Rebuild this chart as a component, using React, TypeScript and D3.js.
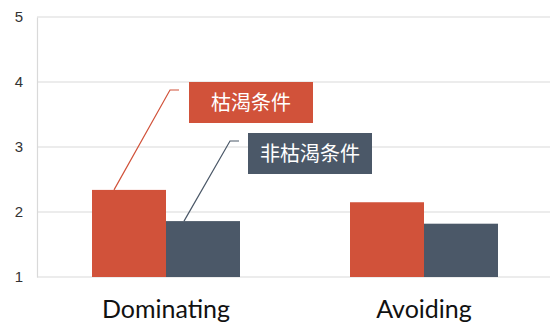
import { axisLeft, scaleBand, scaleLinear, select } from "d3";
import { useEffect, useRef } from "react";

const categories = ["Dominating", "Avoiding"];
const seriesNames = ["枯渴条件", "非枯渴条件"];
const drought = [2.34, 2.15];
const nonDrought = [1.86, 1.82];
const yTicks = [1, 2, 3, 4, 5];

const colors = ["#d1523a", "#4b5868"];

function App() {
  const w = 550;
  const h = 325;
  const svgRef = useRef(null);

  useEffect(() => {
    document.body.style.margin = "0";
    if (!svgRef.current) return;
    const svg = select(svgRef.current).attr("width", w).attr("height", h);
    svg.selectAll("*").remove();

    const left = 37;
    const x0 = scaleBand().domain(categories).range([left, 553]).padding(0);
    const x1 = scaleBand()
      .domain(seriesNames)
      .range([55, 203])
      .padding(0);
    const y = scaleLinear().domain([1, 5]).range([277, 17]);

    // grid
    svg
      .append("g")
      .selectAll("line")
      .data(yTicks)
      .join("line")
      .attr("x1", left)
      .attr("x2", w)
      .attr("y1", (d) => y(d))
      .attr("y2", (d) => y(d))
      .attr("stroke", "#d9d9d9")
      .attr("stroke-width", 1.2);

    const yAxis = axisLeft(y)
      .tickValues(yTicks)
      .tickFormat((d) => String(d))
      .tickSize(0)
      .tickPadding(14);
    const ga = svg.append("g").attr("transform", `translate(${left},0)`).call(yAxis);
    ga.select(".domain").attr("stroke", "#d9d9d9").attr("stroke-width", 1.2);
    ga.selectAll("text")
      .style("font-family", "Liberation Sans, Arial, sans-serif")
      .style("font-size", "15px")
      .attr("fill", "#333");

    const rows = categories.map((c, i) => ({ c, vals: [drought[i], nonDrought[i]] }));

    svg
      .append("g")
      .selectAll("g")
      .data(rows)
      .join("g")
      .attr("transform", (d) => `translate(${x0(d.c)},0)`)
      .selectAll("rect")
      .data((d) => d.vals.map((v, j) => ({ v, s: seriesNames[j], j })))
      .join("rect")
      .attr("x", (d) => x1(d.s))
      .attr("y", (d) => y(d.v))
      .attr("width", x1.bandwidth())
      .attr("height", (d) => y(1) - y(d.v))
      .attr("fill", (d) => colors[d.j]);

    // category labels
    svg
      .append("g")
      .selectAll("text")
      .data(categories)
      .join("text")
      .attr("x", (d) => x0(d) + x0.bandwidth() / 2)
      .attr("y", 318)
      .attr("text-anchor", "middle")
      .style("font-family", "Lato, Open Sans, sans-serif")
      .style("font-size", "25px")
      .attr("fill", "#111")
      .text((d) => d);

    // callouts for the first category
    const c0 = categories[0];
    const callouts = [
      { j: 0, v: drought[0], box: [189, 82, 124, 41], elbow: [170, 90], dx: 22 },
      { j: 1, v: nonDrought[0], box: [248, 133, 124, 41], elbow: [230, 141], dx: 18 },
    ];
    callouts.forEach((co) => {
      const bx = x0(c0) + x1(seriesNames[co.j]) + co.dx;
      const by = y(co.v);
      svg
        .append("polyline")
        .attr(
          "points",
          `${bx},${by} ${co.elbow[0]},${co.elbow[1]} ${co.elbow[0] + 9},${co.elbow[1]}`
        )
        .attr("fill", "none")
        .attr("stroke", colors[co.j])
        .attr("stroke-width", 1.2);
      svg
        .append("rect")
        .attr("x", co.box[0])
        .attr("y", co.box[1])
        .attr("width", co.box[2])
        .attr("height", co.box[3])
        .attr("fill", colors[co.j]);
      svg
        .append("text")
        .attr("x", co.box[0] + co.box[2] / 2)
        .attr("y", co.box[1] + co.box[3] / 2 + 7)
        .attr("text-anchor", "middle")
        .style("font-family", "Noto Sans CJK SC, sans-serif")
        .style("font-size", "20px")
        .attr("fill", "#fff")
        .text(seriesNames[co.j]);
    });
  }, [svgRef]);

  return (
    <div>
      <svg ref={svgRef}></svg>
    </div>
  );
}

export default App;
